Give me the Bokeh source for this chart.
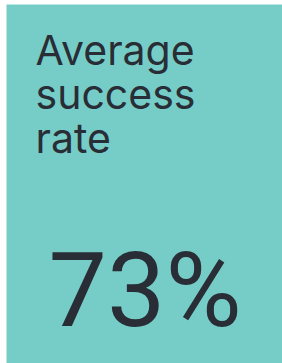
from bokeh.plotting import figure
from bokeh.models import Range1d, ColumnDataSource
from bokeh.core.properties import value
from bokeh.embed import file_html
from bokeh.resources import INLINE

title_lines = ["Average", "success", "rate"]
metric_value = [73]
metric_suffix = "%"

BG = "#76cdc8"
FG = "#292d35"
W, H = 276, 359

p = figure(width=W, height=H, output_backend="svg", toolbar_location=None,
           x_range=Range1d(0, W), y_range=Range1d(H, 0),
           min_border=0, outline_line_color=None,
           background_fill_color=BG, border_fill_color=BG)
p.axis.visible = False
p.grid.visible = False
p.styles = {"margin-left": "6px", "margin-top": "4px"}

src_t = ColumnDataSource(dict(x=[29] * len(title_lines),
                              y=[45 + 44 * i for i in range(len(title_lines))],
                              t=title_lines))
p.text(x="x", y="y", text="t", source=src_t, text_font=value("Inter"),
       text_font_size="41px", text_color=FG, text_baseline="alphabetic",
       text_align="left")

src_v = ColumnDataSource(dict(x=[42], y=[286],
                              t=[f"{v}{metric_suffix}" for v in metric_value]))
p.text(x="x", y="y", text="t", source=src_v, text_font=value("Roboto"),
       text_font_size="104px", text_color=FG, text_baseline="alphabetic",
       text_align="left")

open("out.html", "w").write(file_html(p, INLINE))
